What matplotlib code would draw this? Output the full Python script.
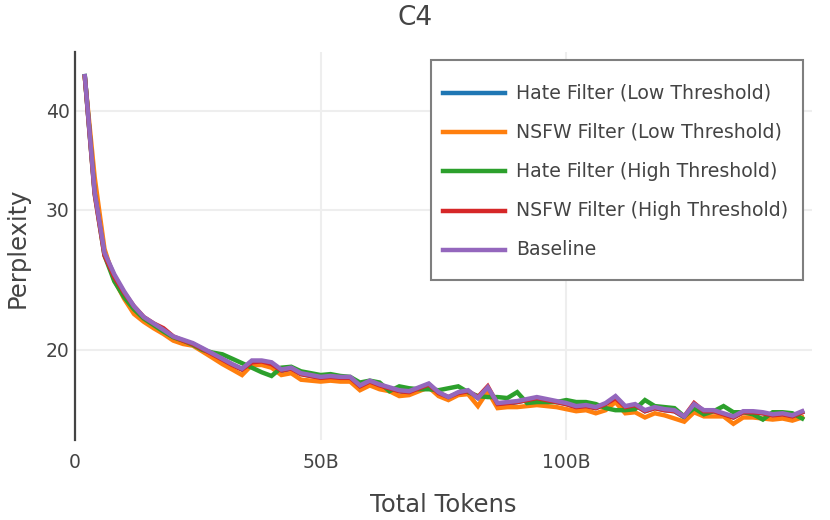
import matplotlib
matplotlib.use("Agg")
import matplotlib.pyplot as plt
from matplotlib.ticker import NullLocator
from matplotlib.patches import Rectangle
from matplotlib.lines import Line2D

# checkpoints, billions of tokens
tokens = list(range(2, 150, 2))

hate_low = [44.2, 31.7, 26.5, 24.8, 23.6, 22.6, 21.95, 21.55, 21.15, 20.75,
            20.55, 20.35, 20.05, 19.75, 19.45, 19.15, 18.9, 19.35, 19.35, 19.25,
            18.8, 18.95, 18.65, 18.55, 18.45, 18.5, 18.4, 18.45, 17.95, 18.25,
            18.05, 17.9, 17.75, 17.65, 17.9, 18.1, 17.65, 17.4, 17.65, 17.7,
            17.4, 17.9, 17.05, 17.1, 17.2, 17.3, 17.4, 17.3, 17.2, 17.1,
            16.95, 17.0, 16.9, 17.1, 17.45, 16.95, 17.05, 16.75, 16.9, 16.8,
            16.75, 16.45, 17.05, 16.75, 16.75, 16.6, 16.45, 16.7, 16.7, 16.65,
            16.55, 16.6, 16.5, 16.7]

nsfw_low = [44.0, 33.0, 26.8, 24.5, 23.2, 22.2, 21.7, 21.3, 20.95, 20.55,
            20.35, 20.25, 19.9, 19.55, 19.2, 18.9, 18.6, 19.15, 19.15, 19.0,
            18.6, 18.7, 18.35, 18.3, 18.25, 18.3, 18.25, 18.25, 17.8, 18.05,
            17.85, 17.75, 17.5, 17.55, 17.75, 17.95, 17.5, 17.3, 17.55, 17.6,
            17.0, 17.75, 16.9, 16.95, 16.95, 17.0, 17.05, 17.0, 16.95, 16.85,
            16.75, 16.8, 16.65, 16.8, 17.2, 16.65, 16.7, 16.45, 16.65, 16.55,
            16.4, 16.25, 16.7, 16.5, 16.5, 16.5, 16.15, 16.45, 16.45, 16.4,
            16.35, 16.4, 16.3, 16.45]

hate_high = [44.2, 31.5, 26.3, 24.4, 23.3, 22.5, 21.9, 21.5, 21.1, 20.75,
             20.55, 20.3, 20.0, 19.85, 19.75, 19.5, 19.25, 19.0, 18.75, 18.55,
             19.0, 19.05, 18.8, 18.7, 18.6, 18.65, 18.55, 18.5, 18.2, 18.3,
             18.2, 17.75, 18.0, 17.9, 17.85, 17.85, 17.8, 17.9, 18.0, 17.7,
             17.5, 17.45, 17.45, 17.4, 17.7, 17.15, 17.2, 17.2, 17.2, 17.3,
             17.2, 17.2, 17.1, 16.9, 16.8, 16.8, 16.85, 17.3, 17.0, 16.95,
             16.9, 16.5, 16.9, 16.6, 16.75, 17.0, 16.7, 16.7, 16.6, 16.35,
             16.7, 16.7, 16.65, 16.4]

nsfw_high = [44.1, 31.4, 26.3, 24.7, 23.6, 22.7, 22.0, 21.6, 21.3, 20.8,
             20.55, 20.35, 20.05, 19.75, 19.45, 19.15, 18.9, 19.3, 19.35, 19.2,
             18.85, 18.95, 18.65, 18.55, 18.45, 18.5, 18.45, 18.45, 18.0, 18.25,
             18.05, 17.9, 17.75, 17.7, 17.9, 18.1, 17.65, 17.45, 17.65, 17.75,
             17.45, 18.0, 17.1, 17.15, 17.2, 17.3, 17.4, 17.3, 17.2, 17.1,
             16.95, 17.0, 16.9, 17.1, 17.4, 16.95, 17.05, 16.75, 16.9, 16.8,
             16.75, 16.5, 17.15, 16.75, 16.75, 16.6, 16.45, 16.7, 16.7, 16.65,
             16.55, 16.6, 16.5, 16.7]

baseline = [44.2, 31.6, 26.5, 24.9, 23.7, 22.7, 22.0, 21.6, 21.2, 20.8,
            20.6, 20.4, 20.1, 19.8, 19.5, 19.2, 18.95, 19.4, 19.4, 19.3,
            18.9, 19.0, 18.7, 18.6, 18.5, 18.55, 18.5, 18.5, 18.05, 18.3,
            18.1, 17.95, 17.8, 17.75, 17.95, 18.15, 17.7, 17.45, 17.7, 17.8,
            17.4, 17.95, 17.15, 17.2, 17.25, 17.35, 17.45, 17.35, 17.25, 17.15,
            17.0, 17.05, 16.95, 17.15, 17.5, 17.0, 17.1, 16.8, 16.95, 16.85,
            16.8, 16.5, 17.1, 16.8, 16.8, 16.65, 16.5, 16.75, 16.75, 16.7,
            16.6, 16.65, 16.55, 16.75]

series = [
    ("Hate Filter (Low Threshold)", hate_low, "#1f77b4"),
    ("NSFW Filter (Low Threshold)", nsfw_low, "#ff7f0e"),
    ("Hate Filter (High Threshold)", hate_high, "#2ca02c"),
    ("NSFW Filter (High Threshold)", nsfw_high, "#d62728"),
    ("Baseline", baseline, "#9467bd"),
]

x_ticks = [0, 50, 100]
x_labels = ["0", "50B", "100B"]
y_ticks = [20, 30, 40]
y_labels = ["20", "30", "40"]

W, H = 830, 520
txt = "#444444"
plt.rcParams["font.family"] = ["DejaVu Sans"]


def fx(px):
    return px / W


def fy(py):
    return 1 - py / H


fig = plt.figure(figsize=(W / 100, H / 100), dpi=100)
ax = fig.add_axes([fx(75), fy(440), 737 / W, 388 / H])

for name, vals, col in series:
    ax.plot(tokens, vals, color=col, lw=3.2, solid_joinstyle="miter")

ax.set_yscale("log")
ax.set_xlim(0, 150)
ax.set_ylim(15.41, 47.4)
ax.set_yticks(y_ticks)
ax.set_yticklabels(y_labels)
ax.yaxis.set_minor_locator(NullLocator())
ax.set_xticks(x_ticks)
ax.set_xticklabels(x_labels)

ax.grid(True, color="#eeeeee", lw=1.5)
ax.set_axisbelow(True)
for s in ["top", "right", "bottom"]:
    ax.spines[s].set_visible(False)
ax.spines["left"].set_color("#444444")
ax.spines["left"].set_linewidth(1.6)
ax.tick_params(axis="both", length=0, labelsize=13.5, labelcolor=txt)
ax.tick_params(axis="x", pad=9)
ax.tick_params(axis="y", pad=4)

# legend box drawn by hand to get plotly-like spacing
fig.add_artist(Rectangle((fx(431), fy(280)), 372 / W, 220 / H, transform=fig.transFigure,
                         facecolor="white", edgecolor="#7f7f7f", lw=1.5, zorder=5))
for i, (name, vals, col) in enumerate(series):
    yy = fy(93 + 39.2 * i)
    fig.add_artist(Line2D([fx(443), fx(505)], [yy, yy], color=col, lw=3.2,
                          transform=fig.transFigure, zorder=6))
    fig.text(fx(516), yy, name, ha="left", va="center", fontsize=13.6, color=txt, zorder=6)

fig.text(0.5, fy(18), "C4", ha="center", va="center", fontsize=19, color=txt)
fig.text(fx(443), fy(505), "Total Tokens", ha="center", va="center",
         fontsize=17.5, color=txt)
fig.text(fx(18), fy(248), "Perplexity", ha="center", va="center",
         rotation=90, fontsize=17.5, color=txt)

fig.savefig("out.png", dpi=100)
